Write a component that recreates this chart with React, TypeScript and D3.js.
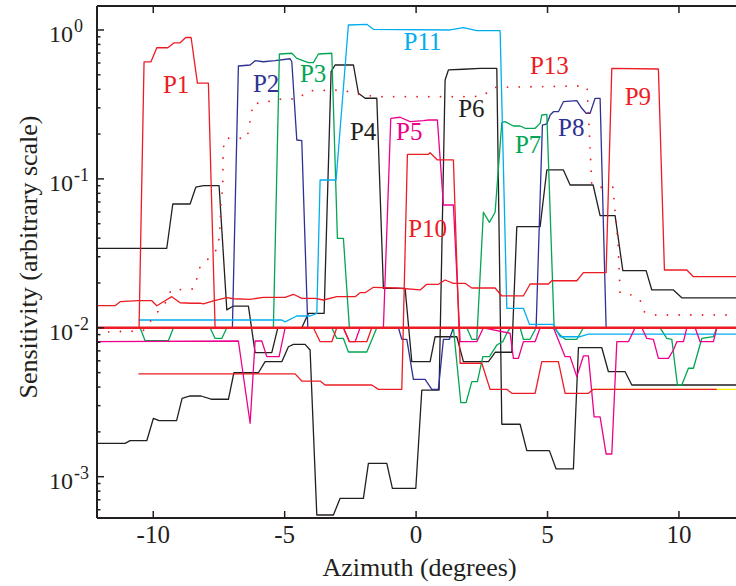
import React from 'react';
import * as d3 from 'd3';

const W = 736;
const H = 586;
const xDomain: [number, number] = [-12.14, 12.17];
const yDomain: [number, number] = [5.28e-4, 1.449];
const xTicks = [-10, -5, 0, 5, 10];
const yTickExps = [0, -1, -2, -3];
const xTitle = 'Azimuth (degrees)';
const yTitle = 'Sensitivity (arbitrary scale)';

type Pt = [number, number];

const floorLine: Pt[] = [[-12.14, 0.01], [12.17, 0.01]];

const p1: Pt[] = [[-10.54, 0.01], [-10.35, 0.61], [-10.09, 0.61], [-9.865, 0.76], [-9.447, 0.76], [-9.207, 0.82], [-8.979, 0.82], [-8.762, 0.89], [-8.56, 0.89], [-8.32, 0.44], [-7.902, 0.44], [-7.647, 0.01]];

const p2: Pt[] = [[-10.565, 0.01], [-6.989, 0.01], [-6.761, 0.573], [-6.315, 0.582], [-6.125, 0.622], [-5.809, 0.612], [-5.364, 0.622], [-4.794, 0.641], [-4.729, 0.612], [-4.539, 0.1825], [-4.349, 0.1806], [-4.12, 0.01], [-0.673, 0.01], [-0.544, 0.00837], [-0.354, 0.00837], [-0.103, 0.00451], [0.342, 0.00451], [0.597, 0.00386], [0.848, 0.00386], [1.039, 0.00837], [1.267, 0.00837], [1.419, 0.01], [4.5, 0.01]];

const p3: Pt[] = [[-12.14, 0.01], [-10.5, 0.01], [-10.31, 0.00819], [-9.424, 0.00819], [-9.233, 0.01], [-7.837, 0.01], [-7.647, 0.00848], [-7.392, 0.00848], [-7.202, 0.01], [-5.429, 0.01], [-5.201, 0.69], [-4.729, 0.698], [-4.539, 0.645], [-4.097, 0.603], [-3.907, 0.603], [-3.717, 0.69], [-3.207, 0.698], [-2.994, 0.0399], [-2.766, 0.0399], [-2.538, 0.01], [1.419, 0.01], [1.701, 0.00314], [1.902, 0.00314], [2.119, 0.00435], [2.332, 0.00435], [2.538, 0.0064], [2.789, 0.0064], [3.07, 0.00766], [3.298, 0.00807], [3.451, 0.00919], [3.576, 0.01], [3.957, 0.01], [4.082, 0.00837], [4.337, 0.00837], [4.565, 0.01], [12.17, 0.01]];

const p4: Pt[] = [[-12.14, 0.0342], [-9.485, 0.0342], [-9.256, 0.0678], [-8.598, 0.0678], [-8.381, 0.0879], [-8.092, 0.09], [-7.495, 0.09], [-7.202, 0.0132], [-6.951, 0.014], [-6.38, 0.014], [-6.125, 0.00681], [-5.49, 0.00681], [-5.262, 0.01], [-4.349, 0.01], [-4.097, 0.0125], [-3.5, 0.0125], [-3.234, 0.525], [-3.082, 0.582], [-2.385, 0.582], [-2.195, 0.376], [-1.94, 0.348], [-1.495, 0.348], [-1.244, 0.0184], [-0.418, 0.0184], [-0.164, 0.00592], [0.533, 0.00592], [0.723, 0.00871], [1.548, 0.00871], [1.8, 0.00592], [2.751, 0.00592], [3.006, 0.00685], [3.641, 0.00685], [3.831, 0.0478], [4.718, 0.0478], [4.973, 0.1148], [5.604, 0.1148], [5.859, 0.091], [6.734, 0.091], [7.0, 0.0566], [7.571, 0.0566], [7.864, 0.0242], [8.75, 0.0242], [8.967, 0.01795], [9.789, 0.01795], [10.108, 0.0159], [12.17, 0.0159]];

const p5: Pt[] = [[-12.14, 0.00807], [-6.761, 0.00815], [-6.315, 0.002285], [-6.125, 0.00815], [-5.87, 0.00815], [-5.68, 0.0064], [-5.212, 0.0064], [-4.984, 0.01], [-2.766, 0.01], [-2.538, 0.00807], [-2.321, 0.00807], [-2.131, 0.01], [-1.244, 0.01], [-0.963, 0.2553], [-0.609, 0.2594], [-0.228, 0.2423], [0.278, 0.246], [0.468, 0.2486], [0.81, 0.2486], [1.039, 0.0668], [1.419, 0.0668], [1.674, 0.00807], [2.309, 0.00807], [2.56, 0.01], [3.576, 0.00919], [3.702, 0.00624], [3.892, 0.00624], [4.082, 0.00807], [4.527, 0.00807], [4.718, 0.01], [5.224, 0.01], [5.669, 0.0064], [5.859, 0.0064], [6.114, 0.0047], [6.365, 0.00647], [6.555, 0.00647], [6.772, 0.00252], [7.0, 0.00252], [7.229, 0.00142], [7.445, 0.00142], [7.636, 0.00807], [8.077, 0.00807], [8.332, 0.01], [8.587, 0.01], [8.777, 0.00848], [9.028, 0.00837], [9.218, 0.00624], [9.599, 0.00624], [9.789, 0.00709], [9.918, 0.00807], [10.17, 0.00807], [10.299, 0.01], [10.615, 0.01], [10.805, 0.00807], [11.311, 0.00807], [11.44, 0.01], [12.17, 0.01]];

const p6: Pt[] = [[-12.14, 0.001676], [-11.071, 0.001676], [-10.881, 0.001745], [-10.246, 0.001745], [-9.994, 0.002467], [-9.778, 0.002377], [-9.112, 0.002377], [-8.903, 0.003362], [-8.598, 0.003483], [-8.18, 0.003483], [-7.773, 0.003311], [-7.141, 0.003311], [-6.932, 0.00499], [-6.0, 0.00499], [-5.745, 0.00592], [-5.109, 0.00592], [-4.858, 0.00746], [-4.668, 0.00774], [-4.223, 0.00774], [-4.033, 0.00709], [-3.778, 0.000553], [-3.146, 0.000553], [-2.891, 0.000716], [-2.005, 0.000716], [-1.815, 0.00123], [-1.115, 0.00123], [-0.902, 0.000836], [-0.011, 0.000836], [0.217, 0.00382], [0.875, 0.00382], [1.103, 0.4615], [1.229, 0.539], [1.8, 0.545], [2.435, 0.553], [3.07, 0.553], [3.26, 0.00225], [3.957, 0.00225], [4.212, 0.001496], [5.071, 0.001496], [5.326, 0.001127], [5.984, 0.001127], [6.175, 0.00735], [7.065, 0.00735], [7.316, 0.00507], [7.952, 0.00507], [8.206, 0.00413], [12.17, 0.00413]];

const p7: Pt[] = [[-12.14, 0.01], [-3.207, 0.01], [-3.017, 0.00848], [-2.766, 0.00848], [-2.576, 0.00688], [-1.876, 0.00688], [-1.495, 0.01], [1.929, 0.01], [2.119, 0.00837], [2.309, 0.00837], [2.56, 0.0597], [2.789, 0.0511], [3.006, 0.0597], [3.26, 0.2385], [3.386, 0.2423], [3.702, 0.2266], [3.957, 0.2266], [4.147, 0.2187], [4.527, 0.2187], [4.718, 0.236], [4.782, 0.2685], [4.973, 0.2716], [5.25, 0.01], [5.478, 0.00895], [5.669, 0.00837], [6.114, 0.00837], [6.365, 0.01], [9.283, 0.01], [9.538, 0.00848], [9.728, 0.00837], [9.941, 0.00413], [10.108, 0.00413], [10.36, 0.00535], [10.55, 0.00535], [10.869, 0.00848], [11.311, 0.00871], [11.44, 0.01], [12.17, 0.01]];

const p8: Pt[] = [[4.565, 0.01], [4.805, 0.23], [4.973, 0.234], [5.098, 0.2685], [5.224, 0.2827], [5.414, 0.2827], [5.604, 0.33], [6.114, 0.335], [6.304, 0.298], [6.468, 0.276], [6.62, 0.276], [6.81, 0.3477], [7.0, 0.3477], [7.229, 0.01], [12.17, 0.01]];

const p9: Pt[] = [[-12.14, 0.01407], [-11.452, 0.01407], [-11.261, 0.01497], [-10.565, 0.0152], [-10.055, 0.0152], [-9.865, 0.01407], [-9.614, 0.01497], [-9.295, 0.01618], [-8.979, 0.01473], [-8.534, 0.01462], [-8.218, 0.01462], [-8.092, 0.01446], [-7.712, 0.01514], [-7.202, 0.01592], [-6.951, 0.01567], [-6.315, 0.01553], [-5.809, 0.01603], [-4.984, 0.01603], [-4.668, 0.01679], [-4.349, 0.01578], [-3.843, 0.01578], [-3.527, 0.01537], [-3.017, 0.01618], [-2.321, 0.01618], [-2.131, 0.01721], [-1.94, 0.01721], [-1.625, 0.0187], [-0.734, 0.0185], [0.152, 0.01795], [0.407, 0.01959], [0.848, 0.01959], [1.103, 0.02094], [1.419, 0.0199], [1.864, 0.0199], [2.119, 0.0185], [3.006, 0.0185], [3.26, 0.01636], [4.082, 0.01636], [4.337, 0.01968], [5.033, 0.01968], [5.163, 0.0207], [6.114, 0.0207], [6.365, 0.02344], [7.228, 0.02344], [7.445, 0.553], [9.218, 0.547], [9.447, 0.02444], [10.299, 0.02444], [10.55, 0.02204], [12.17, 0.02204]];

const p10: Pt[] = [[-10.565, 0.0049], [-4.603, 0.0049], [-4.349, 0.00439], [-3.652, 0.00439], [-3.462, 0.00413], [-1.685, 0.00413], [-1.434, 0.00386], [-0.544, 0.00386], [-0.331, 0.1463], [0.468, 0.1463], [0.533, 0.15], [0.81, 0.134], [1.419, 0.134], [1.674, 0.00578], [2.5, 0.00578], [2.815, 0.00386], [3.451, 0.00386], [3.641, 0.00363], [4.527, 0.00363], [4.782, 0.00592], [5.414, 0.00592], [5.669, 0.00363], [6.555, 0.00363], [6.745, 0.00386], [11.44, 0.00386]];

const p11: Pt[] = [[-10.565, 0.01128], [-5.109, 0.01128], [-4.984, 0.01096], [-4.539, 0.012], [-4.033, 0.012], [-3.778, 0.0125], [-3.652, 0.0983], [-3.044, 0.0983], [-2.576, 1.08], [-1.876, 1.092], [-1.625, 1.011], [1.294, 1.0], [1.8, 1.036], [2.309, 0.989], [3.196, 0.989], [3.451, 0.01352], [4.082, 0.01352], [4.311, 0.01054], [5.224, 0.01054], [5.478, 0.00871], [6.239, 0.00871], [6.555, 0.00908], [12.17, 0.00908]];

const p12: Pt[] = [[6.745, 0.00386], [12.17, 0.00386]];

const p13: Pt[] = [[-12.14, 0.00935], [-10.386, 0.00953], [-9.93, 0.01219], [-9.511, 0.01497], [-9.321, 0.01795], [-8.484, 0.01823], [-8.332, 0.0216], [-8.218, 0.0257], [-7.951, 0.0285], [-7.533, 0.0344], [-7.457, 0.049], [-7.419, 0.0722], [-7.354, 0.0868], [-7.343, 0.1564], [-7.267, 0.1874], [-6.43, 0.1874], [-6.201, 0.322], [-5.783, 0.322], [-5.364, 0.343], [-4.489, 0.3443], [-4.109, 0.391], [-2.777, 0.3955], [-2.321, 0.3715], [-1.446, 0.3565], [2.054, 0.3565], [2.549, 0.3604], [2.929, 0.412], [6.239, 0.4207], [6.506, 0.414], [6.685, 0.091], [7.027, 0.0879], [7.495, 0.0879], [7.52, 0.0756], [7.685, 0.036], [7.761, 0.01714], [8.206, 0.0166], [8.522, 0.01537], [8.674, 0.01283], [9.093, 0.01219], [12.17, 0.01219]];

const redDips: Pt[] = [[-12.14, 0.01], [-3.907, 0.01], [-3.652, 0.00807], [-3.207, 0.00807], [-3.017, 0.01], [-2.766, 0.01], [-2.538, 0.00807], [-1.876, 0.00807], [-1.685, 0.01], [12.17, 0.01]];

const labelNames = ['P1', 'P2', 'P3', 'P4', 'P5', 'P6', 'P7', 'P8', 'P9', 'P10', 'P11', 'P13'];
const labelX = [-9.131, -5.707, -3.919, -2.016, -0.259, 2.104, 4.261, 5.905, 8.438, 0.4375, 0.247, 5.071];
const labelY = [0.379, 0.385, 0.445, 0.1825, 0.1825, 0.2618, 0.1486, 0.195, 0.3135, 0.0409, 0.734, 0.506];

const RED = '#ED1C24';
const BLUE = '#2E3192';
const GREEN = '#00A651';
const CYAN = '#00AEEF';
const MAGENTA = '#EC008C';
const BLACK = '#231F20';
const YELLOW = '#FFF200';
const labelColors = [RED, BLUE, GREEN, BLACK, MAGENTA, BLACK, GREEN, BLUE, RED, RED, CYAN, RED];

const series = [
  { data: p12, color: YELLOW, w: 1.3, dash: '' },
  { data: p6, color: BLACK, w: 1.3, dash: '' },
  { data: p4, color: BLACK, w: 1.3, dash: '' },
  { data: p2, color: BLUE, w: 1.3, dash: '' },
  { data: p8, color: BLUE, w: 1.3, dash: '' },
  { data: p3, color: GREEN, w: 1.3, dash: '' },
  { data: p7, color: GREEN, w: 1.3, dash: '' },
  { data: p11, color: CYAN, w: 1.3, dash: '' },
  { data: p5, color: MAGENTA, w: 1.3, dash: '' },
  { data: p10, color: RED, w: 1.3, dash: '' },
  { data: p9, color: RED, w: 1.3, dash: '' },
  { data: p1, color: RED, w: 1.3, dash: '' },
  { data: redDips, color: RED, w: 1.3, dash: '' },
  { data: p13, color: RED, w: 1.8, dash: '0.01 11.7' },
  { data: floorLine, color: RED, w: 2.4, dash: '' },
];

export default function App() {
  const left = 97, right = 736, top = 6, bottom = 518;
  const x = d3.scaleLinear().domain(xDomain).range([left, right]);
  const y = d3.scaleLog().domain(yDomain).range([bottom, top]);
  const line = d3.line<Pt>().x(d => x(d[0])).y(d => y(d[1]));
  const serif = '"Liberation Serif", "Times New Roman", serif';

  const minor: number[] = [];
  for (let e = -4; e <= 0; e++) {
    for (let m = 2; m <= 9; m++) {
      const v = m * Math.pow(10, e);
      if (v >= yDomain[0] && v <= yDomain[1]) minor.push(v);
    }
  }

  return (
    <svg width={W} height={H} style={{ position: 'absolute', left: 0, top: 0, background: '#fff' }}>
      <rect x={0} y={0} width={W} height={H} fill="#fff" />
      <defs>
        <clipPath id="plotclip">
          <rect x={left} y={top} width={right - left} height={bottom - top} />
        </clipPath>
      </defs>
      <g clipPath="url(#plotclip)" fill="none" strokeLinejoin="round">
        {series.map((s, i) => (
          <path key={i} d={line(s.data) || ''} stroke={s.color} strokeWidth={s.w}
            strokeDasharray={s.dash || undefined} strokeLinecap={s.dash ? 'round' : 'butt'} />
        ))}
      </g>
      {labelNames.map((t, i) => (
        <text key={t} x={x(labelX[i])} y={y(labelY[i])} textAnchor="middle" fontFamily={serif}
          fontSize={25} fill={labelColors[i]}>{t}</text>
      ))}
      <g stroke={BLACK} strokeWidth={2} fill="none">
        <line x1={left} y1={top} x2={right} y2={top} />
        <line x1={left} y1={bottom} x2={right} y2={bottom} />
        <line x1={left} y1={top} x2={left} y2={bottom} />
      </g>
      <g stroke={BLACK} strokeWidth={1.5}>
        {xTicks.map(t => (
          <g key={t}>
            <line x1={x(t)} x2={x(t)} y1={bottom} y2={bottom - 7} />
            <line x1={x(t)} x2={x(t)} y1={top} y2={top + 7} />
          </g>
        ))}
        {yTickExps.map(e => (
          <line key={e} x1={left} x2={left + 7} y1={y(Math.pow(10, e))} y2={y(Math.pow(10, e))} />
        ))}
        {minor.map(v => (
          <line key={v} x1={left} x2={left + 3.5} y1={y(v)} y2={y(v)} />
        ))}
      </g>
      {xTicks.map(t => (
        <text key={t} x={x(t)} y={543} textAnchor="middle" fontFamily={serif} fontSize={25} fill={BLACK}>
          {t < 0 ? '-' + Math.abs(t) : String(t)}
        </text>
      ))}
      {yTickExps.map(e => (
        <text key={e} x={49} y={y(Math.pow(10, e)) + 12.5} fontFamily={serif} fontSize={24} fill={BLACK}>
          10<tspan dx={1} dy={-10} fontSize={18}>{e < 0 ? '-' + Math.abs(e) : String(e)}</tspan>
        </text>
      ))}
      <text x={(left + right) / 2 + 3} y={576} textAnchor="middle" fontFamily={serif} fontSize={26} fill={BLACK}>{xTitle}</text>
      <text transform={`translate(37, 257) rotate(-90)`} textAnchor="middle" fontFamily={serif} fontSize={26} fill={BLACK}>{yTitle}</text>
    </svg>
  );
}
